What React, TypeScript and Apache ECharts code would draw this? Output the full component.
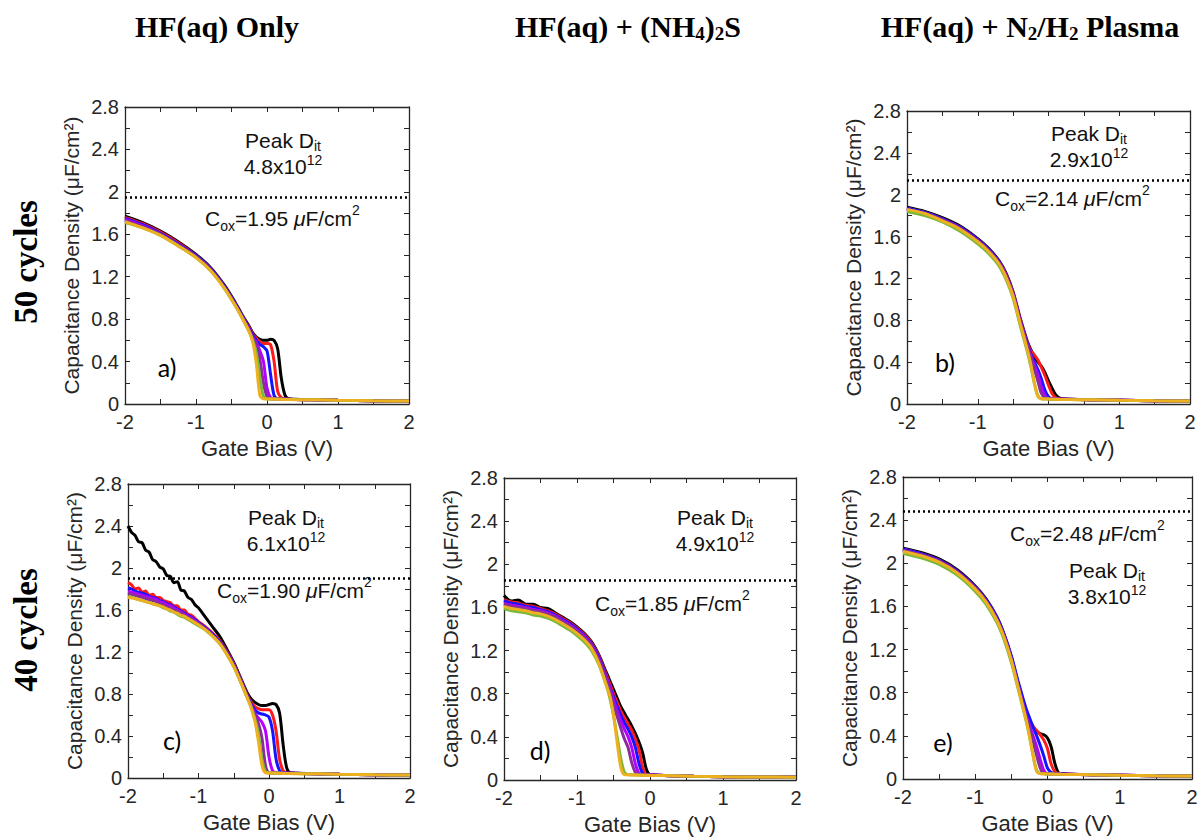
import React, { useEffect, useRef } from "react";
import * as echarts from "echarts";

// ---------- data ----------
const CURVE_NAMES = ["c1", "c2", "c3", "c4", "c5", "c6", "c7"];
const CURVE_COLORS = ["#000000", "#ff1a1a", "#1414ff", "#b400ff", "#8a2c9a", "#7ab83a", "#edb120"];

const X_TICKS = [-2, -1, 0, 1, 2];
const Y_TICKS = [0, 0.4, 0.8, 1.2, 1.6, 2, 2.4, 2.8];

// Panel a) HF only, 50 cycles
const X_A = [-2, -1.75, -1.5, -1.25, -1, -0.8, -0.6, -0.45, -0.35, -0.25, -0.2, -0.15, -0.1, -0.05, 0, 0.05, 0.1, 0.15, 0.2, 0.25, 0.3, 0.4, 0.7, 1, 1.5, 2];
const A_K = [1.77, 1.71, 1.63, 1.53, 1.41, 1.29, 1.12, 0.96, 0.84, 0.73, 0.67, 0.63, 0.61, 0.6, 0.6, 0.61, 0.6, 0.52, 0.25, 0.09, 0.05, 0.045, 0.04, 0.035, 0.03, 0.028];
const A_R = [1.76, 1.7, 1.62, 1.52, 1.4, 1.28, 1.11, 0.95, 0.83, 0.72, 0.66, 0.62, 0.59, 0.57, 0.57, 0.56, 0.4, 0.12, 0.06, 0.05, 0.045, 0.042, 0.04, 0.035, 0.03, 0.028];
const A_B = [1.75, 1.69, 1.61, 1.51, 1.4, 1.28, 1.11, 0.95, 0.83, 0.71, 0.65, 0.6, 0.56, 0.54, 0.5, 0.28, 0.08, 0.05, 0.048, 0.046, 0.045, 0.042, 0.04, 0.035, 0.03, 0.028];
const A_M = [1.74, 1.68, 1.6, 1.5, 1.39, 1.27, 1.1, 0.94, 0.82, 0.7, 0.63, 0.58, 0.5, 0.4, 0.15, 0.06, 0.05, 0.048, 0.046, 0.045, 0.044, 0.042, 0.04, 0.035, 0.03, 0.028];
const A_P = [1.73, 1.67, 1.6, 1.5, 1.39, 1.27, 1.1, 0.94, 0.82, 0.69, 0.62, 0.55, 0.42, 0.2, 0.07, 0.05, 0.048, 0.047, 0.046, 0.045, 0.044, 0.042, 0.04, 0.035, 0.03, 0.028];
const A_G = [1.71, 1.66, 1.59, 1.49, 1.38, 1.26, 1.09, 0.93, 0.81, 0.68, 0.6, 0.48, 0.25, 0.07, 0.05, 0.048, 0.047, 0.046, 0.045, 0.044, 0.043, 0.042, 0.04, 0.035, 0.03, 0.028];
const A_Y = [1.72, 1.66, 1.59, 1.49, 1.38, 1.26, 1.09, 0.93, 0.81, 0.68, 0.58, 0.38, 0.08, 0.05, 0.048, 0.047, 0.046, 0.045, 0.044, 0.043, 0.042, 0.041, 0.04, 0.035, 0.03, 0.028];

// Panel b) HF + N2/H2 plasma, 50 cycles
const X_B = [-2, -1.75, -1.5, -1.25, -1, -0.85, -0.7, -0.6, -0.5, -0.4, -0.3, -0.25, -0.2, -0.15, -0.1, -0.05, 0, 0.05, 0.1, 0.15, 0.2, 0.3, 0.6, 1, 1.5, 2];
const B_K = [1.88, 1.84, 1.78, 1.7, 1.58, 1.49, 1.37, 1.25, 1.07, 0.82, 0.6, 0.52, 0.45, 0.4, 0.36, 0.3, 0.22, 0.15, 0.09, 0.06, 0.05, 0.045, 0.04, 0.035, 0.03, 0.028];
const B_R = [1.87, 1.83, 1.77, 1.69, 1.57, 1.48, 1.36, 1.24, 1.06, 0.81, 0.59, 0.51, 0.47, 0.42, 0.35, 0.27, 0.18, 0.1, 0.06, 0.05, 0.047, 0.045, 0.04, 0.035, 0.03, 0.028];
const B_B = [1.87, 1.83, 1.77, 1.69, 1.57, 1.48, 1.36, 1.23, 1.05, 0.8, 0.58, 0.48, 0.4, 0.33, 0.24, 0.13, 0.07, 0.05, 0.048, 0.047, 0.046, 0.045, 0.04, 0.035, 0.03, 0.028];
const B_M = [1.86, 1.82, 1.76, 1.68, 1.56, 1.47, 1.35, 1.23, 1.05, 0.79, 0.57, 0.46, 0.37, 0.28, 0.16, 0.08, 0.05, 0.048, 0.047, 0.046, 0.045, 0.044, 0.04, 0.035, 0.03, 0.028];
const B_P = [1.86, 1.82, 1.76, 1.68, 1.56, 1.47, 1.35, 1.22, 1.04, 0.78, 0.56, 0.44, 0.33, 0.22, 0.1, 0.06, 0.05, 0.048, 0.047, 0.046, 0.045, 0.044, 0.04, 0.035, 0.03, 0.028];
const B_G = [1.84, 1.8, 1.74, 1.65, 1.53, 1.44, 1.32, 1.19, 1.01, 0.75, 0.5, 0.36, 0.2, 0.08, 0.05, 0.048, 0.047, 0.046, 0.045, 0.044, 0.043, 0.042, 0.04, 0.035, 0.03, 0.028];
const B_Y = [1.86, 1.82, 1.75, 1.67, 1.55, 1.46, 1.34, 1.21, 1.03, 0.77, 0.52, 0.38, 0.2, 0.07, 0.05, 0.048, 0.047, 0.046, 0.045, 0.044, 0.043, 0.042, 0.04, 0.035, 0.03, 0.028];

// Panel c) HF only, 40 cycles
const X_C = [-2, -1.95, -1.9, -1.85, -1.8, -1.75, -1.7, -1.65, -1.6, -1.55, -1.5, -1.45, -1.4, -1.35, -1.3, -1.25, -1.2, -1.15, -1.1, -1.05, -1, -0.9, -0.8, -0.7, -0.6, -0.5, -0.4, -0.3, -0.25, -0.2, -0.15, -0.1, -0.05, 0, 0.05, 0.1, 0.15, 0.2, 0.25, 0.3, 0.4, 0.7, 1, 1.5, 2];
const C_K = [2.4, 2.34, 2.31, 2.25, 2.24, 2.17, 2.15, 2.08, 2.06, 2.01, 1.99, 1.93, 1.92, 1.86, 1.87, 1.79, 1.78, 1.72, 1.7, 1.65, 1.62, 1.53, 1.44, 1.35, 1.23, 1.1, 0.95, 0.8, 0.75, 0.72, 0.7, 0.69, 0.69, 0.7, 0.71, 0.7, 0.62, 0.32, 0.1, 0.05, 0.045, 0.04, 0.035, 0.03, 0.028];
const C_R = [1.86, 1.84, 1.8, 1.81, 1.77, 1.78, 1.74, 1.75, 1.72, 1.72, 1.69, 1.68, 1.67, 1.64, 1.64, 1.6, 1.6, 1.56, 1.55, 1.52, 1.49, 1.44, 1.38, 1.31, 1.21, 1.09, 0.94, 0.78, 0.72, 0.68, 0.66, 0.65, 0.65, 0.65, 0.6, 0.45, 0.18, 0.07, 0.05, 0.047, 0.045, 0.04, 0.035, 0.03, 0.028];
const C_B = [1.81, 1.8, 1.78, 1.77, 1.76, 1.75, 1.73, 1.72, 1.71, 1.69, 1.68, 1.66, 1.65, 1.63, 1.61, 1.59, 1.57, 1.55, 1.53, 1.51, 1.48, 1.43, 1.37, 1.3, 1.2, 1.08, 0.93, 0.77, 0.7, 0.65, 0.62, 0.61, 0.6, 0.58, 0.45, 0.18, 0.07, 0.05, 0.048, 0.046, 0.045, 0.04, 0.035, 0.03, 0.028];
const C_M = [1.78, 1.77, 1.76, 1.75, 1.74, 1.73, 1.72, 1.71, 1.7, 1.68, 1.67, 1.65, 1.64, 1.62, 1.6, 1.58, 1.56, 1.54, 1.52, 1.5, 1.47, 1.42, 1.36, 1.29, 1.19, 1.07, 0.92, 0.76, 0.69, 0.62, 0.57, 0.53, 0.45, 0.2, 0.07, 0.05, 0.048, 0.047, 0.046, 0.045, 0.044, 0.04, 0.035, 0.03, 0.028];
const C_P = [1.76, 1.75, 1.74, 1.73, 1.72, 1.71, 1.7, 1.69, 1.68, 1.66, 1.65, 1.63, 1.62, 1.6, 1.59, 1.57, 1.55, 1.53, 1.51, 1.49, 1.47, 1.42, 1.36, 1.29, 1.19, 1.07, 0.92, 0.76, 0.68, 0.6, 0.52, 0.38, 0.12, 0.05, 0.048, 0.047, 0.046, 0.045, 0.044, 0.043, 0.042, 0.04, 0.035, 0.03, 0.028];
const C_G = [1.73, 1.72, 1.71, 1.7, 1.69, 1.68, 1.67, 1.66, 1.65, 1.64, 1.62, 1.61, 1.59, 1.58, 1.56, 1.54, 1.53, 1.51, 1.49, 1.47, 1.45, 1.41, 1.35, 1.28, 1.18, 1.06, 0.91, 0.75, 0.67, 0.56, 0.42, 0.18, 0.06, 0.05, 0.048, 0.047, 0.046, 0.045, 0.044, 0.043, 0.042, 0.04, 0.035, 0.03, 0.028];
const C_Y = [1.72, 1.715, 1.71, 1.7, 1.69, 1.68, 1.67, 1.66, 1.65, 1.64, 1.63, 1.61, 1.6, 1.58, 1.57, 1.55, 1.54, 1.52, 1.5, 1.48, 1.46, 1.41, 1.35, 1.28, 1.18, 1.06, 0.91, 0.75, 0.66, 0.54, 0.35, 0.12, 0.05, 0.048, 0.047, 0.046, 0.045, 0.044, 0.043, 0.042, 0.041, 0.04, 0.035, 0.03, 0.028];

// Panel d) HF + (NH4)2S, 40 cycles
const X_D = [-2, -1.9, -1.8, -1.7, -1.6, -1.5, -1.4, -1.3, -1.2, -1.1, -1, -0.9, -0.8, -0.7, -0.6, -0.55, -0.5, -0.45, -0.4, -0.35, -0.3, -0.25, -0.2, -0.15, -0.1, -0.05, 0, 0.1, 0.3, 0.6, 1, 1.5, 2];
const D_K = [1.71, 1.66, 1.67, 1.63, 1.63, 1.6, 1.59, 1.55, 1.51, 1.47, 1.42, 1.36, 1.28, 1.16, 1.0, 0.92, 0.84, 0.76, 0.68, 0.62, 0.56, 0.5, 0.43, 0.35, 0.25, 0.1, 0.05, 0.045, 0.04, 0.035, 0.03, 0.028, 0.025];
const D_R = [1.67, 1.65, 1.64, 1.62, 1.61, 1.59, 1.57, 1.54, 1.5, 1.46, 1.41, 1.35, 1.27, 1.15, 0.98, 0.89, 0.8, 0.72, 0.64, 0.58, 0.52, 0.46, 0.38, 0.28, 0.12, 0.05, 0.047, 0.045, 0.04, 0.035, 0.03, 0.028, 0.025];
const D_B = [1.66, 1.64, 1.63, 1.61, 1.6, 1.58, 1.56, 1.53, 1.49, 1.45, 1.4, 1.34, 1.26, 1.14, 0.96, 0.86, 0.77, 0.68, 0.6, 0.53, 0.47, 0.4, 0.3, 0.15, 0.06, 0.05, 0.047, 0.045, 0.04, 0.035, 0.03, 0.028, 0.025];
const D_M = [1.64, 1.62, 1.61, 1.6, 1.58, 1.57, 1.55, 1.52, 1.48, 1.44, 1.39, 1.33, 1.25, 1.12, 0.95, 0.85, 0.74, 0.64, 0.55, 0.47, 0.4, 0.3, 0.15, 0.06, 0.05, 0.048, 0.047, 0.045, 0.04, 0.035, 0.03, 0.028, 0.025];
const D_P = [1.63, 1.61, 1.6, 1.59, 1.57, 1.56, 1.54, 1.51, 1.47, 1.43, 1.38, 1.32, 1.24, 1.11, 0.93, 0.82, 0.7, 0.59, 0.48, 0.38, 0.3, 0.16, 0.07, 0.05, 0.048, 0.047, 0.046, 0.045, 0.04, 0.035, 0.03, 0.028, 0.025];
const D_G = [1.59, 1.57, 1.56, 1.55, 1.53, 1.52, 1.5, 1.47, 1.43, 1.39, 1.34, 1.28, 1.2, 1.07, 0.88, 0.76, 0.6, 0.4, 0.2, 0.07, 0.05, 0.048, 0.047, 0.046, 0.045, 0.044, 0.043, 0.042, 0.04, 0.035, 0.03, 0.028, 0.025];
const D_Y = [1.61, 1.59, 1.58, 1.57, 1.55, 1.54, 1.52, 1.49, 1.45, 1.41, 1.36, 1.3, 1.22, 1.08, 0.88, 0.78, 0.6, 0.35, 0.12, 0.05, 0.048, 0.047, 0.046, 0.045, 0.044, 0.043, 0.042, 0.041, 0.04, 0.035, 0.03, 0.028, 0.025];

// Panel e) HF + N2/H2 plasma, 40 cycles
const X_E = [-2, -1.75, -1.5, -1.25, -1, -0.85, -0.7, -0.6, -0.5, -0.4, -0.3, -0.25, -0.2, -0.15, -0.1, -0.05, 0, 0.05, 0.1, 0.15, 0.2, 0.3, 0.6, 1, 1.5, 2];
const E_K = [2.14, 2.1, 2.04, 1.94, 1.79, 1.67, 1.5, 1.34, 1.13, 0.87, 0.64, 0.55, 0.48, 0.44, 0.42, 0.41, 0.38, 0.3, 0.15, 0.06, 0.05, 0.045, 0.04, 0.035, 0.03, 0.028];
const E_R = [2.13, 2.09, 2.03, 1.93, 1.78, 1.66, 1.49, 1.33, 1.12, 0.86, 0.63, 0.55, 0.49, 0.45, 0.41, 0.36, 0.28, 0.14, 0.07, 0.05, 0.047, 0.045, 0.04, 0.035, 0.03, 0.028];
const E_B = [2.13, 2.09, 2.03, 1.93, 1.78, 1.66, 1.5, 1.34, 1.14, 0.89, 0.66, 0.57, 0.48, 0.4, 0.31, 0.21, 0.1, 0.06, 0.05, 0.048, 0.046, 0.045, 0.04, 0.035, 0.03, 0.028];
const E_M = [2.12, 2.08, 2.02, 1.92, 1.77, 1.65, 1.48, 1.32, 1.11, 0.85, 0.6, 0.5, 0.4, 0.3, 0.18, 0.08, 0.05, 0.048, 0.047, 0.046, 0.045, 0.044, 0.04, 0.035, 0.03, 0.028];
const E_P = [2.12, 2.08, 2.02, 1.92, 1.77, 1.65, 1.48, 1.32, 1.11, 0.85, 0.58, 0.47, 0.35, 0.22, 0.1, 0.05, 0.048, 0.047, 0.046, 0.045, 0.044, 0.043, 0.04, 0.035, 0.03, 0.028];
const E_G = [2.09, 2.05, 1.99, 1.89, 1.74, 1.62, 1.45, 1.29, 1.08, 0.82, 0.55, 0.4, 0.22, 0.08, 0.05, 0.048, 0.047, 0.046, 0.045, 0.044, 0.043, 0.042, 0.04, 0.035, 0.03, 0.028];
const E_Y = [2.11, 2.07, 2.01, 1.91, 1.76, 1.64, 1.47, 1.31, 1.1, 0.83, 0.56, 0.4, 0.22, 0.07, 0.05, 0.048, 0.047, 0.046, 0.045, 0.044, 0.043, 0.042, 0.04, 0.035, 0.03, 0.028];

const COX = [1.95, 2.14, 1.9, 1.85, 2.48];
const COX_LABELS = ["1.95", "2.14", "1.90", "1.85", "2.48"];
const PEAK_DIT = ["4.8", "2.9", "6.1", "4.9", "3.8"];
const PANEL_LABELS = ["a)", "b)", "c)", "d)", "e)"];

// ---------- layout ----------
const SANS = '"Liberation Sans", Arial, Helvetica, sans-serif';
const SERIF = '"Liberation Serif", "Times New Roman", serif';
const AX = "#262626";

const PANELS = [
  { x: X_A, ys: [A_K, A_R, A_B, A_M, A_P, A_G, A_Y], grid: { left: 125, top: 107, width: 284, height: 297 },
    peak: [283, 153], cox: [205, 218], tag: [167, 367] },
  { x: X_B, ys: [B_K, B_R, B_B, B_M, B_P, B_G, B_Y], grid: { left: 907, top: 111, width: 283, height: 293 },
    peak: [1089, 146], cox: [995, 198], tag: [945, 362] },
  { x: X_C, ys: [C_K, C_R, C_B, C_M, C_P, C_G, C_Y], grid: { left: 128, top: 484, width: 282, height: 294 },
    peak: [286, 530], cox: [217, 590], tag: [172, 740] },
  { x: X_D, ys: [D_K, D_R, D_B, D_M, D_P, D_G, D_Y], grid: { left: 504, top: 478, width: 292, height: 302 },
    peak: [715, 530], cox: [595, 603], tag: [540, 750] },
  { x: X_E, ys: [E_K, E_R, E_B, E_M, E_P, E_G, E_Y], grid: { left: 903, top: 477, width: 289, height: 302 },
    peak: [1107, 583], cox: [1010, 533], tag: [943, 742] },
];

const peakRich = {
  t: { fontSize: 21, fontFamily: SANS, fill: "#111", lineHeight: 26 },
  sub: { fontSize: 14, fontFamily: SANS, fill: "#111", lineHeight: 10, verticalAlign: "bottom" },
  sup: { fontSize: 14, fontFamily: SANS, fill: "#111", lineHeight: 10, verticalAlign: "top" },
};
const coxRich = {
  t: { fontSize: 21, fontFamily: SANS, fill: "#111", lineHeight: 30 },
  sub: { fontSize: 14, fontFamily: SANS, fill: "#111", lineHeight: 10, verticalAlign: "bottom" },
  sup: { fontSize: 14, fontFamily: SANS, fill: "#111", lineHeight: 10, verticalAlign: "top" },
  mu: { fontSize: 21, fontFamily: SANS, fontStyle: "italic", fill: "#111", lineHeight: 30 },
};

function buildOption() {
  const grid: any[] = [];
  const xAxis: any[] = [];
  const yAxis: any[] = [];
  const series: any[] = [];
  const graphic: any[] = [];

  const tickCommon = { show: true, inside: true, length: 5, lineStyle: { color: AX, width: 1 } };
  const minorCommon = { show: true, splitNumber: 2, length: 5, lineStyle: { color: AX, width: 1 } };
  const lineCommon = { show: true, onZero: false, lineStyle: { color: AX, width: 1.3 } };
  const fmt = (v: number) => String(Math.round(v * 10) / 10);

  PANELS.forEach((p, i) => {
    grid.push({ ...p.grid, containLabel: false });
    xAxis.push({
      gridIndex: i, type: "value", min: X_TICKS[0], max: X_TICKS[X_TICKS.length - 1], interval: 1,
      position: "bottom", axisLine: lineCommon, axisTick: tickCommon, minorTick: minorCommon,
      splitLine: { show: false },
      axisLabel: { color: AX, fontSize: 20, fontFamily: SANS, margin: 8, formatter: fmt },
      name: "Gate Bias (V)", nameLocation: "middle", nameGap: 33,
      nameTextStyle: { color: AX, fontSize: 22, fontFamily: SANS },
    });
    xAxis.push({
      gridIndex: i, type: "value", min: X_TICKS[0], max: X_TICKS[X_TICKS.length - 1], interval: 1,
      position: "top", axisLine: lineCommon, axisTick: tickCommon, minorTick: minorCommon,
      splitLine: { show: false }, axisLabel: { show: false },
    });
    yAxis.push({
      gridIndex: i, type: "value", min: Y_TICKS[0], max: Y_TICKS[Y_TICKS.length - 1], interval: 0.4,
      position: "left", axisLine: lineCommon, axisTick: tickCommon, minorTick: minorCommon,
      splitLine: { show: false },
      axisLabel: { color: AX, fontSize: 20, fontFamily: SANS, margin: 6, formatter: fmt },
      name: "Capacitance Density (\u03bcF/cm\u00b2)", nameLocation: "middle", nameGap: 43,
      nameTextStyle: { color: AX, fontSize: 21, fontFamily: SANS },
    });
    yAxis.push({
      gridIndex: i, type: "value", min: Y_TICKS[0], max: Y_TICKS[Y_TICKS.length - 1], interval: 0.4,
      position: "right", axisLine: lineCommon, axisTick: tickCommon, minorTick: minorCommon,
      splitLine: { show: false }, axisLabel: { show: false },
    });

    p.ys.forEach((ys, k) => {
      const s: any = {
        type: "line", name: `${PANEL_LABELS[i]} ${CURVE_NAMES[k]}`,
        xAxisIndex: 2 * i, yAxisIndex: 2 * i,
        data: p.x.map((xv, j) => [xv, ys[j]]),
        showSymbol: false, symbol: "none", smooth: 0.3,
        lineStyle: { color: CURVE_COLORS[k], width: 3 },
        itemStyle: { color: CURVE_COLORS[k] },
        z: 2 + k,
      };
      if (k === 0) {
        s.markLine = {
          silent: true, symbol: "none", label: { show: false },
          lineStyle: { color: "#000", type: [2, 3], width: 2.5 },
          data: [{ yAxis: COX[i] }],
        };
      }
      series.push(s);
    });

    graphic.push({
      type: "text", x: p.peak[0], y: p.peak[1],
      style: { text: `{t|Peak D}{sub|it}\n{t|${PEAK_DIT[i]}x10}{sup|12}`, rich: peakRich,
        align: "center", verticalAlign: "middle" },
    });
    graphic.push({
      type: "text", x: p.cox[0], y: p.cox[1],
      style: { text: `{t|C}{sub|ox}{t|=${COX_LABELS[i]} }{mu|\u03bc}{t|F/cm}{sup|2}`, rich: coxRich,
        align: "left", verticalAlign: "middle" },
    });
    graphic.push({
      type: "text", x: p.tag[0], y: p.tag[1],
      style: { text: PANEL_LABELS[i], fill: "#000", font: '25px Lato, "Open Sans", sans-serif',
        align: "center", verticalAlign: "middle" },
    });
  });

  const titleRich = {
    b: { fontSize: 30, fontWeight: "bold", fontFamily: SERIF, fill: "#000", lineHeight: 34 },
    s: { fontSize: 19, fontWeight: "bold", fontFamily: SERIF, fill: "#000", lineHeight: 24, verticalAlign: "bottom" },
  };
  graphic.push({ type: "text", x: 217, y: 26,
    style: { text: "{b|HF(aq) Only}", rich: titleRich, align: "center", verticalAlign: "middle" } });
  graphic.push({ type: "text", x: 628, y: 26,
    style: { text: "{b|HF(aq) + (NH}{s|4}{b|)}{s|2}{b|S}", rich: titleRich, align: "center", verticalAlign: "middle" } });
  graphic.push({ type: "text", x: 1030, y: 26,
    style: { text: "{b|HF(aq) + N}{s|2}{b|/H}{s|2}{b| Plasma}", rich: titleRich, align: "center", verticalAlign: "middle" } });
  graphic.push({ type: "text", x: 26, y: 262, rotation: Math.PI / 2,
    style: { text: "50 cycles", font: `bold 33px ${SERIF}`, fill: "#000", align: "center", verticalAlign: "middle" } });
  graphic.push({ type: "text", x: 26, y: 630, rotation: Math.PI / 2,
    style: { text: "40 cycles", font: `bold 33px ${SERIF}`, fill: "#000", align: "center", verticalAlign: "middle" } });

  return { animation: false, backgroundColor: "#ffffff", grid, xAxis, yAxis, series, graphic };
}

export default function App() {
  const ref = useRef<HTMLDivElement>(null);
  useEffect(() => {
    document.body.style.margin = "0";
    if (!ref.current) return;
    const chart = echarts.init(ref.current, undefined, { renderer: "svg" });
    chart.setOption(buildOption() as any);
    return () => chart.dispose();
  }, []);
  return <div ref={ref} style={{ width: 1202, height: 839 }} />;
}
